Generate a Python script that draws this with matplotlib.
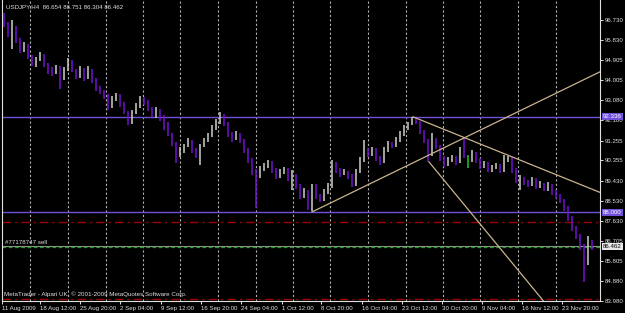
import matplotlib
matplotlib.use("Agg")
import matplotlib.pyplot as plt
import matplotlib.transforms as mtransforms

# USDJPY H4 bars (one entry per bar, left to right)
opens = [96.96, 96.55, 96.10, 96.37, 95.83, 95.37, 95.55, 95.10, 94.74, 94.92, 95.10, 94.74,
         94.46, 94.37, 94.55, 94.10, 94.46, 94.83, 94.46, 94.19, 94.46, 94.10, 94.46, 94.01,
         93.65, 93.47, 93.28, 92.83, 93.19, 93.28, 92.92, 92.56, 92.10, 92.56, 92.83, 93.19,
         93.01, 92.74, 92.47, 92.65, 92.29, 92.01, 91.56, 91.11, 90.61, 90.83, 91.02, 91.20,
         90.83, 90.61, 91.02, 91.29, 91.47, 91.83, 92.10, 92.38, 92.01, 91.56, 91.38, 91.56,
         91.29, 90.83, 90.38, 89.84, 89.65, 90.02, 90.11, 90.29, 89.93, 89.65, 89.84, 89.93,
         89.56, 89.65, 89.20, 88.75, 88.93, 88.29, 89.20, 88.75, 88.57, 88.93, 89.20, 90.02,
         89.93, 89.75, 89.84, 89.65, 89.29, 89.84, 90.38, 90.83, 90.65, 90.83, 90.47, 90.29,
         90.83, 91.11, 91.02, 91.29, 91.56, 91.83, 92.01, 92.24, 92.10, 91.65, 91.29, 90.61,
         91.29, 91.02, 90.47, 90.20, 90.38, 90.47, 90.29, 90.83, 90.56, 90.38, 90.65, 90.38,
         90.11, 90.20, 89.93, 90.02, 90.11, 89.93, 90.38, 90.47, 89.93, 89.47, 89.56, 89.38,
         89.29, 89.47, 89.20, 89.29, 89.11, 89.20, 88.93, 88.75, 88.57, 88.20, 87.75, 87.30,
         86.93, 86.47, 86.30, 86.654]
highs = [97.05, 96.62, 96.73, 96.45, 95.90, 95.75, 95.62, 95.15, 95.05, 95.28, 95.18, 94.80,
         94.58, 94.70, 94.62, 94.60, 95.00, 94.90, 94.52, 94.62, 94.55, 94.65, 94.50, 94.08,
         93.75, 93.55, 93.35, 93.30, 93.40, 93.35, 93.00, 92.62, 92.65, 92.95, 93.30, 93.25,
         93.08, 92.80, 92.78, 92.70, 92.40, 92.08, 91.62, 91.18, 90.95, 91.12, 91.38, 91.28,
         90.90, 91.10, 91.38, 91.60, 91.95, 92.22, 92.55, 92.45, 92.08, 91.65, 91.70, 91.62,
         91.35, 90.90, 90.45, 89.95, 90.12, 90.25, 90.40, 90.35, 90.00, 89.98, 90.05, 90.00,
         89.92, 89.72, 89.28, 89.10, 89.00, 89.30, 89.28, 88.85, 89.05, 89.35, 90.38, 90.30,
         90.00, 89.98, 89.90, 89.72, 89.95, 90.50, 91.29, 90.92, 90.98, 90.90, 90.55, 90.95,
         91.25, 91.20, 91.40, 91.68, 91.95, 92.12, 92.34, 92.30, 92.15, 91.72, 91.35, 91.60,
         91.38, 91.08, 90.55, 90.50, 90.62, 90.55, 90.95, 91.38, 90.62, 90.83, 90.72, 90.45,
         90.32, 90.28, 90.15, 90.25, 90.18, 90.60, 90.58, 90.52, 90.00, 89.70, 89.62, 89.45,
         89.60, 89.55, 89.42, 89.35, 89.38, 89.28, 89.00, 88.82, 88.62, 88.28, 87.82, 87.38,
         87.00, 86.55, 86.95, 86.751]
lows = [96.40, 95.95, 95.40, 95.70, 95.25, 95.30, 94.98, 94.62, 94.60, 94.85, 94.60, 94.30,
        94.20, 94.28, 93.60, 94.00, 94.40, 94.35, 94.05, 94.12, 93.95, 94.05, 93.85, 93.52,
        93.35, 93.15, 92.65, 92.75, 93.05, 92.80, 92.45, 91.95, 92.02, 92.48, 92.75, 92.88,
        92.62, 92.35, 92.30, 92.15, 91.75, 91.45, 91.00, 90.25, 90.50, 90.70, 90.95, 90.70,
        90.48, 90.15, 90.95, 91.20, 91.40, 91.75, 92.02, 91.90, 91.42, 91.20, 91.30, 91.15,
        90.70, 90.25, 89.70, 88.20, 89.55, 89.90, 90.02, 89.80, 89.52, 89.55, 89.75, 89.42,
        89.00, 89.05, 88.62, 88.65, 88.12, 88.05, 88.60, 88.45, 88.50, 88.85, 89.10, 89.80,
        89.62, 89.68, 89.50, 89.15, 89.20, 89.78, 90.30, 90.50, 90.58, 90.35, 90.15, 90.22,
        90.75, 90.90, 90.95, 91.20, 91.48, 91.75, 91.95, 92.00, 91.55, 91.15, 90.30, 90.55,
        90.88, 90.35, 90.05, 90.10, 90.30, 90.15, 90.22, 90.45, 90.00, 90.30, 90.25, 89.98,
        90.02, 89.82, 89.85, 89.95, 89.80, 89.85, 90.30, 89.80, 89.35, 89.02, 89.25, 89.15,
        89.20, 89.08, 89.12, 88.98, 88.95, 88.80, 88.62, 88.42, 88.05, 87.60, 87.15, 86.80,
        86.30, 84.85, 85.60, 86.304]
closes = [96.55, 96.10, 96.37, 95.83, 95.37, 95.55, 95.10, 94.74, 94.92, 95.10, 94.74, 94.46,
          94.37, 94.55, 94.10, 94.46, 94.83, 94.46, 94.19, 94.46, 94.10, 94.46, 94.01, 93.65,
          93.47, 93.28, 92.83, 93.19, 93.28, 92.92, 92.56, 92.10, 92.56, 92.83, 93.19, 93.01,
          92.74, 92.47, 92.65, 92.29, 92.01, 91.56, 91.11, 90.61, 90.83, 91.02, 91.20, 90.83,
          90.61, 91.02, 91.29, 91.47, 91.83, 92.10, 92.38, 92.01, 91.56, 91.38, 91.56, 91.29,
          90.83, 90.38, 89.84, 89.65, 90.02, 90.11, 90.29, 89.93, 89.65, 89.84, 89.93, 89.56,
          89.65, 89.20, 88.75, 88.93, 88.29, 89.20, 88.75, 88.57, 88.93, 89.20, 90.02, 89.93,
          89.75, 89.84, 89.65, 89.29, 89.84, 90.38, 90.83, 90.65, 90.83, 90.47, 90.29, 90.83,
          91.11, 91.02, 91.29, 91.56, 91.83, 92.01, 92.24, 92.10, 91.65, 91.29, 90.61, 91.29,
          91.02, 90.47, 90.20, 90.38, 90.47, 90.29, 90.83, 90.56, 90.38, 90.65, 90.38, 90.11,
          90.20, 89.93, 90.02, 90.11, 89.93, 90.38, 90.47, 89.93, 89.47, 89.56, 89.38, 89.29,
          89.47, 89.20, 89.29, 89.11, 89.20, 88.93, 88.75, 88.57, 88.20, 87.75, 87.30, 86.93,
          86.47, 86.30, 86.66, 86.462]

price_ticks = [96.730, 95.830, 94.905, 94.005, 93.080, 92.180, 91.255, 90.355,
               89.430, 88.530, 87.630, 86.705, 85.805, 84.880, 83.980]
date_labels = ["11 Aug 2009", "18 Aug 12:00", "25 Aug 20:00", "2 Sep 04:00", "9 Sep 12:00",
               "16 Sep 20:00", "24 Sep 04:00", "1 Oct 12:00", "8 Oct 20:00", "16 Oct 04:00",
               "23 Oct 12:00", "30 Oct 20:00", "9 Nov 04:00", "16 Nov 12:00", "23 Nov 20:00"]
date_pos = [-0.5, 9.0, 19.0, 29.0, 39.2, 49.2, 59.2, 69.5, 79.2, 89.5, 99.5, 109.5, 119.5, 129.5, 139.5]
grid_pos = [6.6, 16.0, 25.4, 34.75, 44.1, 53.5, 62.9, 72.25, 81.6, 91.0, 100.4, 109.75, 119.1, 128.5, 137.9]

# horizontal levels and trend lines drawn on the chart
levels = {"high_line": 92.336, "support": 88.000, "stop": 87.58, "target": 84.05, "bid": 86.462}
trend_up = ([77.0, 160.0], [88.02, 95.35])
trend_down = ([102.25, 160.0], [92.336, 88.10])
trend_steep = ([106.25, 140.0], [90.29, 82.85])

bg = "black"
up_col = "#c8c8c0"
dn_col = "#7010c8"
fg = "#e0e0e0"
font = "Liberation Sans"
fs = 4.4

fig = plt.figure(figsize=(6.25, 3.13), dpi=100, facecolor=bg)
ax = fig.add_axes([2 / 625, 12 / 313, 598 / 625, 301 / 313], facecolor=bg)

x = list(range(len(closes)))
colors = [up_col if c >= o else dn_col for o, c in zip(opens, closes)]
colors[116] = "#20c020"

# dotted vertical grid
for g in grid_pos:
    ax.axvline(g, color="#b0b0b0", lw=0.8, ls=(0, (2, 2)), zorder=0)

ax.vlines(x, lows, highs, colors=colors, lw=1.15, zorder=3)

# horizontal objects
ax.axhline(levels["high_line"], color="#7050d8", lw=1.0, zorder=2)
ax.axhline(levels["support"], color="#7050d8", lw=1.0, zorder=2)
ax.axhline(levels["stop"], color="#a00000", lw=1.0, ls=(0, (6, 3, 1.5, 3)), zorder=2)
ax.axhline(levels["target"], color="#a00000", lw=1.0, ls=(0, (6, 3, 1.5, 3)), zorder=2)
ax.axhline(levels["bid"], color="#909090", lw=0.8, zorder=2)
ax.axhline(levels["bid"] - 0.03, color="#20a020", lw=0.9, ls=(0, (3, 2)), zorder=2)

for tl in (trend_up, trend_down, trend_steep):
    ax.plot(tl[0], tl[1], color="#c8b48c", lw=0.9, zorder=4)

ax.set_xlim(-0.5, 149.0)
ax.set_ylim(83.98, 97.637)

ax.yaxis.tick_right()
ax.set_yticks(price_ticks)
ax.set_yticklabels(["%.3f" % p for p in price_ticks], fontsize=fs, color=fg, family=font)
ax.set_xticks(date_pos)
ax.set_xticklabels(date_labels, fontsize=fs, color=fg, family=font, ha="left")
ax.tick_params(axis="y", length=2, width=0.7, color=fg, pad=1.5)
ax.tick_params(axis="x", length=2.5, width=0.7, color=fg, pad=1.0)

for side in ("left", "right", "bottom"):
    ax.spines[side].set_color(fg)
    ax.spines[side].set_linewidth(0.8)
ax.spines["top"].set_visible(False)

# price boxes on the right scale
tr = mtransforms.blended_transform_factory(ax.transAxes, ax.transData)
ax.text(1.005, levels["high_line"], "92.336", transform=tr, fontsize=fs, family=font,
        color="white", va="center", ha="left",
        bbox=dict(boxstyle="square,pad=0.15", fc="#7050d8", ec="none"))
ax.text(1.005, levels["support"], "88.000", transform=tr, fontsize=fs, family=font,
        color="white", va="center", ha="left",
        bbox=dict(boxstyle="square,pad=0.15", fc="#7050d8", ec="none"))
ax.text(1.005, levels["bid"], "86.462", transform=tr, fontsize=fs, family=font,
        color="black", va="center", ha="left",
        bbox=dict(boxstyle="square,pad=0.15", fc="#e8e8e8", ec="none"))

# chart texts
ax.text(0.006, 0.985, "USDJPY,H4  86.654 86.751 86.304 86.462", transform=ax.transAxes,
        fontsize=fs, family=font, color=fg, va="top", ha="left")
ax.text(0.3, levels["bid"] + 0.06, "#77178747 sell", fontsize=fs, family=font,
        color=fg, va="bottom", ha="left")
ax.text(0.004, 0.012, "MetaTrader - Alpari UK, \u00a9 2001-2009 MetaQuotes Software Corp.",
        transform=ax.transAxes, fontsize=fs + 0.1, family=font, color=fg, va="bottom", ha="left")

fig.savefig("out.png", dpi=100, facecolor=bg)
